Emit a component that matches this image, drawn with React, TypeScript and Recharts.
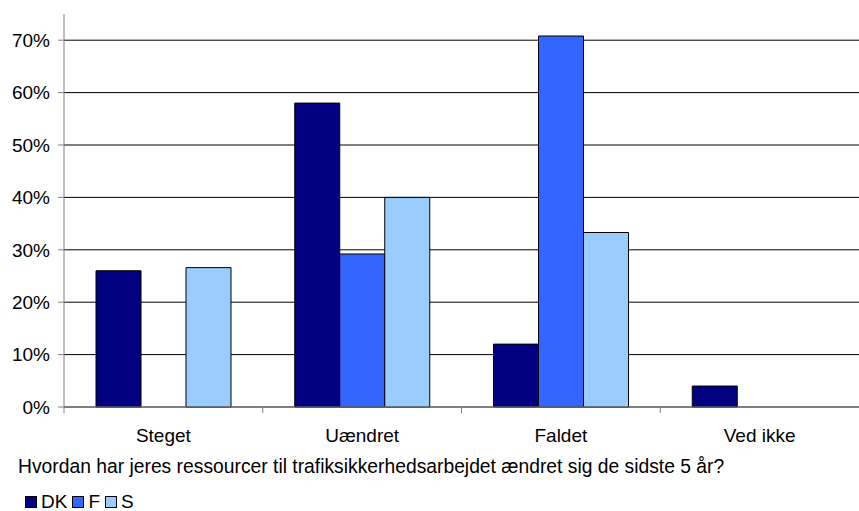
import { BarChart, Bar, XAxis, YAxis, CartesianGrid, Legend } from 'recharts';

const categories = ['Steget', 'Uændret', 'Faldet', 'Ved ikke'];
const dkValues = [26, 58, 12, 4];
const fValues = [0, 29.2, 70.8, 0];
const sValues = [26.6, 40, 33.3, 0];
const yTicks = [0, 10, 20, 30, 40, 50, 60, 70];
const seriesNames = ['DK', 'F', 'S'];
const seriesColors = ['#000080', '#3366FF', '#99CCFF'];
const question = 'Hvordan har jeres ressourcer til trafiksikkerhedsarbejdet ændret sig de sidste 5 år?';

const data = categories.map((name, i) => ({
  name,
  DK: dkValues[i],
  F: fValues[i],
  S: sValues[i],
}));

const font = 'Liberation Sans, Arial, sans-serif';

// category label at centre, tick mark at the left edge of each band
function CategoryTick(props: any) {
  const { x, y, payload } = props;
  const half = payload.offset || 0;
  const axisY = y - 8;
  return (
    <g>
      <line x1={x - half} x2={x - half} y1={axisY} y2={axisY + 6} stroke="#808080" />
      <text x={x} y={y + 14} dy="0.71em" textAnchor="middle" fill="#000" fontSize={19} fontFamily={font}>
        {payload.value}
      </text>
    </g>
  );
}

function LegendBox() {
  return (
    <div style={{ fontFamily: font, color: '#000', height: 60, position: 'relative', width: 859 }}>
      <div style={{ position: 'absolute', left: 18, top: 5, fontSize: 19.3, lineHeight: '22px', whiteSpace: 'nowrap' }}>
        {question}
      </div>
      <div
        style={{
          position: 'absolute',
          left: 25,
          top: 40,
          display: 'flex',
          alignItems: 'center',
          fontSize: 19,
          lineHeight: '22px',
        }}
      >
        {seriesNames.map((s, i) => (
          <span key={s} style={{ display: 'flex', alignItems: 'center', marginRight: 5 }}>
            <span
              style={{
                width: 10,
                height: 10,
                background: seriesColors[i],
                border: '1px solid #000',
                display: 'inline-block',
                marginRight: 4,
              }}
            />
            {s}
          </span>
        ))}
      </div>
    </div>
  );
}

export default function App() {
  return (
    <div style={{ position: 'absolute', left: 0, top: 0, width: 859, height: 511, background: '#fff' }}>
      <BarChart
        width={859}
        height={511}
        data={data}
        margin={{ top: 14, right: 0, left: 0, bottom: 0 }}
        barCategoryGap={32}
        barGap={0}
      >
        <CartesianGrid horizontal vertical={false} stroke="#000" strokeWidth={1} horizontalValues={yTicks} />
        <XAxis
          dataKey="name"
          height={44}
          axisLine={{ stroke: '#808080' }}
          tickLine={false}
          tick={<CategoryTick />}
          interval={0}
        />
        <YAxis
          width={64}
          domain={[0, 75]}
          ticks={yTicks}
          interval={0}
          tickFormatter={(v: number) => `${v}%`}
          axisLine={{ stroke: '#808080' }}
          tickLine={{ stroke: '#808080' }}
          tickSize={6}
          tickMargin={8}
          tick={{ fill: '#000', fontSize: 19, fontFamily: font }}
        />
        <Legend
          verticalAlign="bottom"
          align="left"
          content={() => <LegendBox />}
          wrapperStyle={{ left: 0, bottom: 0, height: 60, width: 859 }}
        />
        {seriesNames.map((s, i) => (
          <Bar
            key={s}
            dataKey={s}
            fill={seriesColors[i]}
            stroke="#000"
            strokeWidth={1}
            isAnimationActive={false}
          />
        ))}
      </BarChart>
    </div>
  );
}
